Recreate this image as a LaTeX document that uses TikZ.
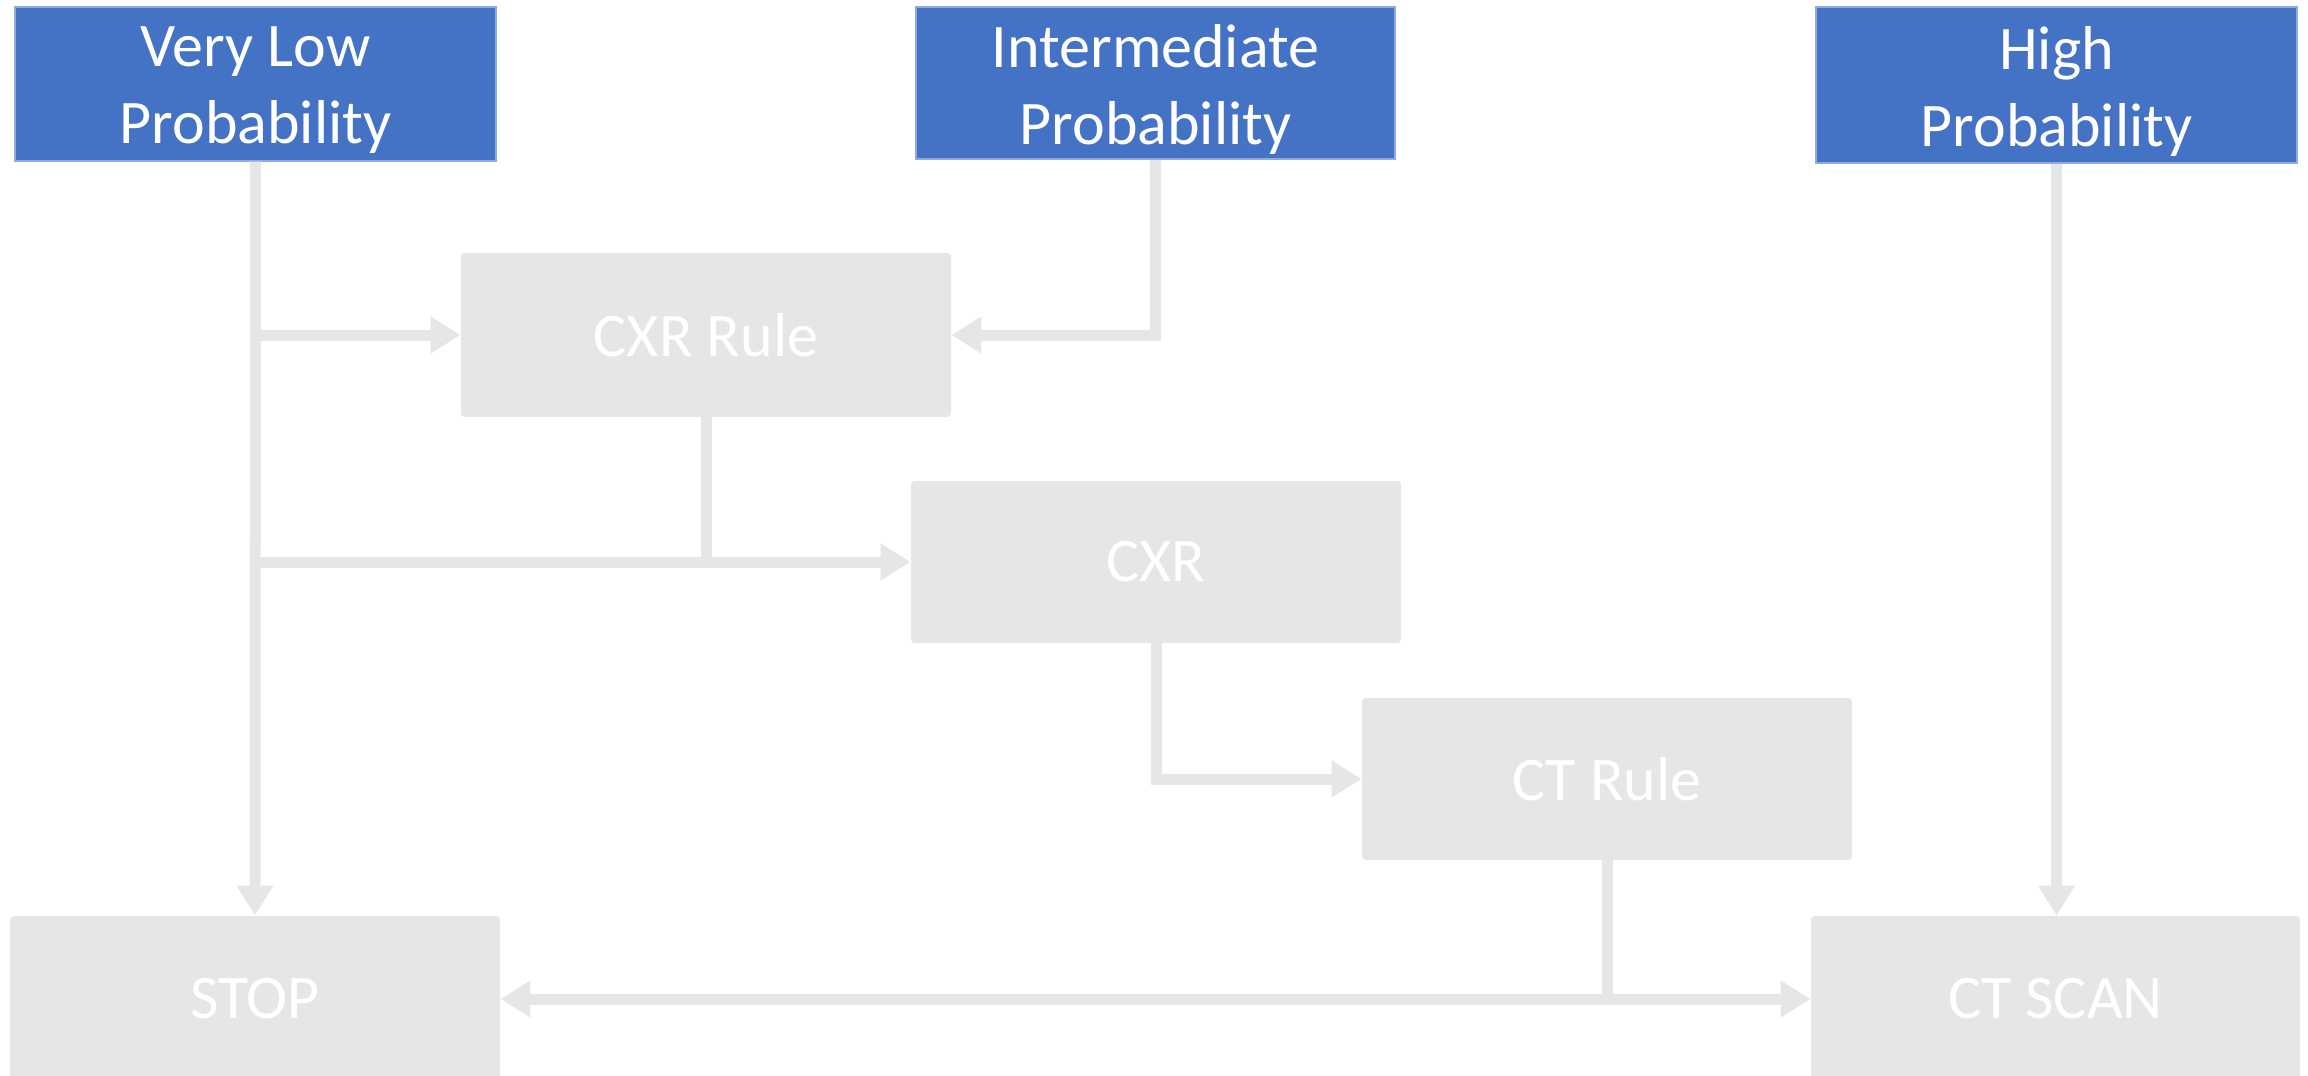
\documentclass[tikz,border=0pt]{standalone}
\usepackage{fontspec}
\setmainfont{Carlito}
\usetikzlibrary{arrows.meta}
\definecolor{probblue}{HTML}{4472C4}
\definecolor{probedge}{HTML}{8FAADC}
\definecolor{stepgray}{HTML}{E7E6E6}
\definecolor{linegray}{HTML}{E6E6E6}
\begin{document}
\begin{tikzpicture}[x=0.5pt,y=-0.5pt,
  probbox/.style={fill=probblue,draw=probedge,line width=0.6pt,inner sep=0pt,
    minimum width=240.5pt},
  probtext/.style={text=white,align=center,inner sep=0pt,yshift=-3pt,
    font=\fontsize{31pt}{38.5pt}\selectfont},
  stepbox/.style={fill=stepgray,rounded corners=1.8pt,inner sep=0pt,
    text=white,font=\fontsize{31pt}{37pt}\selectfont,
    minimum width=245pt},
  conn/.style={draw=linegray,line width=5.5pt,line join=miter},
  arr/.style={conn,-{Triangle[length=15pt,width=17.5pt]}}]
\useasboundingbox (0,0) rectangle (2308,1076);
% probability boxes
\node[probbox,minimum height=77pt,label={[probtext]center:{Very Low\\Probability}}] (vl) at (255.5,84) {};
\node[probbox,minimum height=76pt,minimum width=239.5pt,label={[probtext]center:{Intermediate\\Probability}}] (im) at (1155.5,83) {};
\node[probbox,minimum height=78pt,label={[probtext]center:{High\\Probability}}] (hi) at (2056.5,85) {};
% step boxes
\node[stepbox,minimum height=82pt] (cxrrule) at (706,335) {CXR Rule};
\node[stepbox,minimum height=81pt] (cxr) at (1156,562) {CXR};
\node[stepbox,minimum height=81pt] (ctrule) at (1607,779) {CT Rule};
\node[stepbox,minimum height=83pt] (stop) at (255,999) {STOP};
\node[stepbox,minimum height=83pt,minimum width=244.5pt] (ctscan) at (2055.5,999) {CT SCAN};
% junction coordinates
\coordinate (j1) at (vl.south |- cxrrule.west);
\coordinate (j2) at (vl.south |- cxr.west);
\coordinate (j3) at (cxrrule.south |- cxr.west);
\coordinate (j4) at (ctrule.south |- stop.east);
% connectors
\draw[arr] (vl.south) -- (stop.north);
\draw[arr] (j1) -- (cxrrule.west);
\draw[arr] (j2) -- (cxr.west);
\draw[conn] (cxrrule.south) -- (j3);
\draw[arr] (im.south) |- (cxrrule.east);
\draw[arr] (cxr.south) |- (ctrule.west);
\draw[conn] (ctrule.south) -- (j4);
\draw[arr] (j4) -- (stop.east);
\draw[arr] (j4) -- (ctscan.west);
\draw[arr] (hi.south) -- (hi.south |- ctscan.north);
\end{tikzpicture}
\end{document}
